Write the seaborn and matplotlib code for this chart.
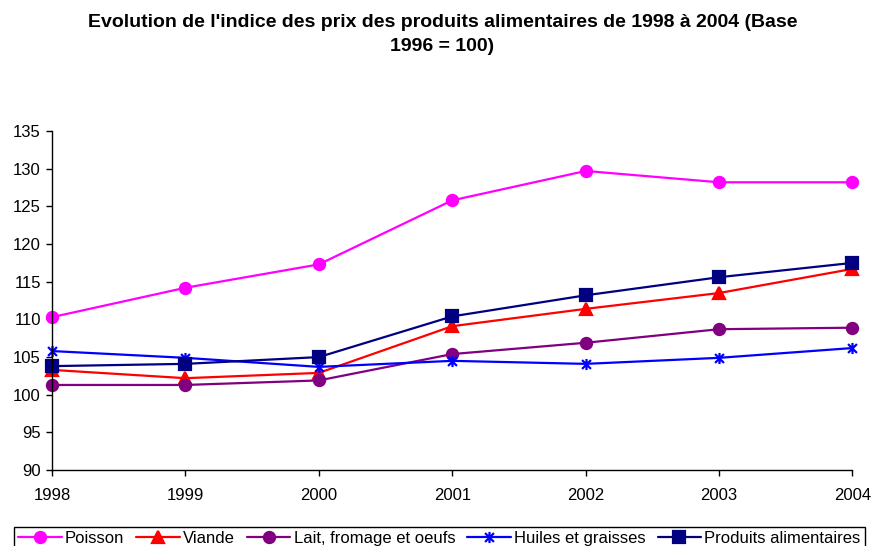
import pandas as pd
import matplotlib.pyplot as plt
import seaborn as sns
from matplotlib.path import Path

# Data
years = [1998, 1999, 2000, 2001, 2002, 2003, 2004]
poisson = [110.3, 114.2, 117.3, 125.8, 129.7, 128.2, 128.2]
viande = [103.3, 102.2, 102.9, 109.1, 111.4, 113.5, 116.7]
lait = [101.3, 101.3, 101.9, 105.4, 106.9, 108.7, 108.9]
huiles = [105.8, 104.9, 103.7, 104.5, 104.1, 104.9, 106.2]
produits = [103.8, 104.1, 105.0, 110.4, 113.2, 115.6, 117.5]

series_names = ["Poisson", "Viande", "Lait, fromage et oeufs", "Huiles et graisses", "Produits alimentaires"]
series_values = [poisson, viande, lait, huiles, produits]
colors = ["#FF00FF", "#FF0000", "#800080", "#0000FF", "#000080"]

# Excel style asterisk: an X with a vertical bar through it
star = Path([(0, -1), (0, 1), (-0.8, -0.8), (0.8, 0.8), (-0.8, 0.8), (0.8, -0.8)],
            [Path.MOVETO, Path.LINETO, Path.MOVETO, Path.LINETO, Path.MOVETO, Path.LINETO])
markers = ["o", "^", "o", star, "s"]

sns.set_theme(style="white")
plt.rcParams['font.family'] = ['Liberation Sans', 'DejaVu Sans']
plt.rcParams['text.color'] = 'black'

fig = plt.figure(figsize=(8.71, 5.46), dpi=100)
ax = fig.add_axes([0.0597, 0.139, 0.919, 0.621])

# One lineplot per series (filled and line-art markers can't be mixed in one call)
for name, vals, c, m in zip(series_names, series_values, colors, markers):
    d = pd.DataFrame({"Annee": years, "Indice": vals})
    face = "none" if m is star else c
    size = 12 if m is star else 9
    sns.lineplot(data=d, x="Annee", y="Indice", color=c, marker=m, markersize=size,
                 markeredgecolor=c, markerfacecolor=face, markeredgewidth=1.6,
                 linewidth=1.6, label=name, ax=ax)

ax.set_xlim(1998, 2004)
ax.set_ylim(90, 135)
ax.set_xticks(years)
ax.set_yticks(range(90, 136, 5))
ax.set_xlabel("")
ax.set_ylabel("")
ax.tick_params(axis="both", labelsize=12, colors="black", direction="out",
               length=4, width=1, bottom=True, left=True)
ax.tick_params(axis="x", pad=9)
ax.tick_params(axis="y", pad=4)
for side in ["top", "right"]:
    ax.spines[side].set_visible(False)
for side in ["left", "bottom"]:
    ax.spines[side].set_color("black")
    ax.spines[side].set_linewidth(1)

for line in ax.lines:
    line.set_clip_on(False)

handles, labels = ax.get_legend_handles_labels()
for h in handles:
    h.set_markersize(8)
leg = ax.legend(handles, labels, loc="upper center", bbox_to_anchor=(0.484, -0.168),
                ncol=5, frameon=True, fancybox=False, edgecolor="black", framealpha=1,
                fontsize=12, handlelength=2.6, handletextpad=0.2, columnspacing=0.72,
                borderpad=0.25, borderaxespad=0)
leg.get_frame().set_linewidth(1)

fig.suptitle("Evolution de l'indice des prix des produits alimentaires de 1998 à 2004 (Base\n1996 = 100)",
             fontsize=14, fontweight="bold", color="black", y=0.975, x=0.508, linespacing=1.55)

fig.savefig("out.png", dpi=100)
